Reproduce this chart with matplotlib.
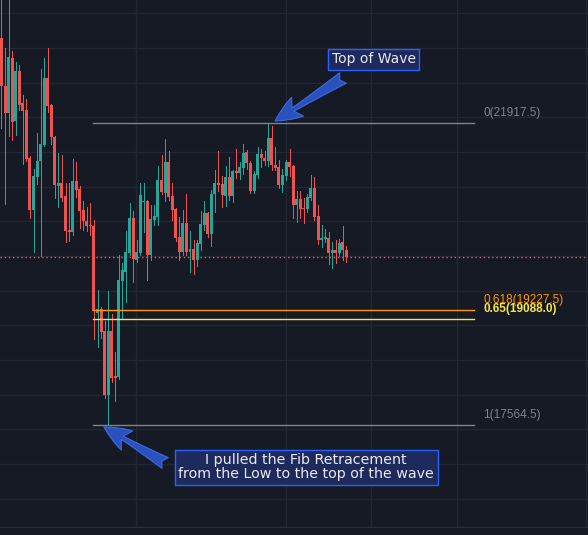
import matplotlib.pyplot as plt
import matplotlib.transforms as mtransforms

# candles (oldest first)
opens = [23142, 22450, 22061, 22854, 21946, 22667, 22205, 22104, 21413, 20663,
         21139, 21369, 21600, 22566, 22176, 21715, 21009, 21052, 20865, 20375,
         20346, 21081, 20966, 20663, 20504, 20447, 20432, 19178, 19236, 18919,
         17996, 18919, 18270, 18256, 19640, 19769, 20043, 20548, 19942, 20043,
         20778, 20793, 20014, 20519, 20562, 21096, 20908, 21355, 20865, 20677,
         20274, 20058, 20476, 20058, 20101, 19943, 20173, 20447, 20620, 20317,
         20894, 21052, 21038, 20865, 21139, 20865, 21225, 21196, 21268, 21499,
         21340, 20937, 21168, 21470, 21413, 21369, 21701, 21312, 21283, 21023,
         21153, 21355, 21297, 20735, 20822, 20692, 20677, 20836, 20980, 20577,
         20231, 20245, 20259, 20043, 20087, 20043, 20202, 20087]
highs = [23733, 22998, 23760, 22955, 22796, 22753, 22321, 22263, 21441, 21254,
         21773, 22695, 22854, 22998, 22190, 21730, 21485, 21456, 21052, 21052,
         21398, 21355, 21009, 20793, 20706, 20764, 20519, 19510, 19265, 19063,
         19496, 19164, 18616, 20014, 19899, 20360, 20764, 20649, 20231, 21052,
         21052, 20810, 20735, 20735, 21297, 21456, 21686, 21513, 21052, 20690,
         20562, 20663, 20894, 20360, 20231, 20231, 20649, 20793, 20635, 20952,
         21240, 21513, 21153, 21297, 21427, 21240, 21542, 21355, 21614, 21528,
         21369, 21225, 21571, 21542, 21513, 21917.5, 21874, 21571, 21384, 21254,
         21384, 21542, 21310, 20937, 20937, 20836, 20894, 21168, 21139, 20735,
         20447, 20389, 20346, 20202, 20231, 20245, 20432, 20144]
lows = [21845, 20750, 21730, 21672, 21744, 22104, 21326, 21369, 20548, 20058,
        21038, 20000, 21590, 22076, 21614, 20836, 20706, 20793, 20202, 20216,
        20303, 20850, 20404, 20375, 20360, 20303, 18804, 18688, 18818, 17953,
        17564.5, 18184, 17910, 18227, 19092, 19337, 20014, 19625, 19913, 20014,
        20346, 19654, 19943, 20447, 20447, 20894, 20793, 20807, 20519, 20216,
        19943, 20014, 20014, 19769, 19741, 19856, 20087, 20375, 20274, 20144,
        20634, 20937, 20706, 20721, 20807, 20778, 21124, 21110, 21182, 21254,
        20908, 20908, 21124, 21283, 21312, 21297, 21240, 21240, 20980, 20922,
        21096, 21153, 20548, 20490, 20548, 20476, 20634, 20807, 20519, 20173,
        20130, 20202, 19885, 19827, 19899, 20000, 19943, 19913]
closes = [22450, 22061, 22868, 21931, 22667, 22176, 22090, 21398, 20663, 21153,
          21369, 21614, 22566, 22162, 21715, 21023, 21052, 20836, 20360, 20346,
          21081, 20951, 20649, 20504, 20432, 20432, 19207, 19236, 18905, 17996,
          18919, 18241, 18241, 19654, 19798, 20058, 20548, 19957, 20058, 20879,
          20793, 20014, 20533, 20577, 21096, 20922, 21355, 20850, 20663, 20259,
          20058, 20476, 20058, 20101, 19943, 20187, 20461, 20620, 20317, 20894,
          21052, 21023, 20879, 21139, 20865, 21225, 21196, 21283, 21485, 21340,
          20937, 21182, 21470, 21413, 21369, 21701, 21312, 21268, 21023, 21168,
          21355, 21283, 20735, 20822, 20677, 20677, 20850, 20980, 20562, 20231,
          20259, 20274, 20043, 20087, 20043, 20187, 20087, 19985]

fib_levels = ['0', '0.618', '0.65', '1']
fib_prices = [21917.5, 19227.5, 19088.0, 17564.5]
fib_colors = ['#80838d', '#ff9800', '#f5e44a', '#80838d']

bg = '#161a25'
up_color = '#26a69a'
down_color = '#ef5350'

fig = plt.figure(figsize=(5.88, 5.35), dpi=100)
fig.patch.set_facecolor(bg)
ax = fig.add_axes([0, 8 / 535, 1, 527 / 535])
ax.set_facecolor(bg)

# candles (1 px wicks, 3 px bodies)
for i in range(len(opens)):
    o, h, l, c = opens[i], highs[i], lows[i], closes[i]
    col = up_color if c >= o else down_color
    ax.vlines(i, l, h, color=col, lw=0.72, zorder=2, antialiased=False)
    bottom = min(o, c)
    height = max(abs(c - o), 14)
    ax.bar(i, height, bottom=bottom, width=0.84, color=col, lw=0, zorder=2,
           antialiased=False)

# last price line
ax.axhline(closes[-1], color=down_color, lw=1, ls=(0, (1, 2)), zorder=1)

# fib retracement
x0, x1 = 25.7, 132.8
for lvl, price, col in zip(fib_levels, fib_prices, fib_colors):
    ax.plot([x0, x1], [price, price], color=col, lw=1, zorder=3)
    off = mtransforms.offset_copy(ax.transData, fig=fig, x=0, y=7.2, units='points')
    label = '%s(%.1f)' % (lvl, price)
    weight = 'bold' if lvl == '0.65' else 'normal'
    ax.text(135.4, price, label, transform=off, color=col, fontsize=8.5,
            family='Liberation Sans', weight=weight, va='center', ha='left', zorder=4)

# annotations
arrow = dict(arrowstyle='fancy,head_length=0.6,head_width=0.5,tail_width=0.28',
             fc='#2a52be', ec='#3d6ae0', lw=0.8, mutation_scale=32,
             shrinkA=0, shrinkB=0)
ax.annotate('', xy=(76.9, 21946), xytext=(96.0, 22566), arrowprops=arrow, zorder=5)
ax.annotate('', xy=(28.8, 17536), xytext=(46.0, 17017), arrowprops=arrow, zorder=5)

box = dict(boxstyle='square,pad=0.25', fc='#1d2a5b', ec='#2962ff', lw=1)
ax.text(104.7, 22833, 'Top of Wave', ha='center', va='center', fontsize=10,
        color='#e8eaf0', bbox=box, zorder=6)
ax.text(85.7, 16952, 'I pulled the Fib Retracement\nfrom the Low to the top of the wave',
        ha='center', va='center', fontsize=10.3, color='#e8eaf0', linespacing=1.0,
        multialignment='center', bbox=box, zorder=6)

# grid (ticks first, limits after so the ticks do not widen the view)
ax.set_yticks(range(16000, 24000, 500))
ax.set_xticks([37.95, 80.1, 104.0, 128.2, 164.2])
ax.set_xlim(-0.42, 164.9)
ax.set_ylim(16094.3, 23690.4)
ax.grid(True, color='#242733', lw=1, zorder=0)
ax.set_axisbelow(True)
ax.tick_params(left=False, bottom=False, labelleft=False, labelbottom=False)
for s in ['top', 'left', 'right']:
    ax.spines[s].set_visible(False)
ax.spines['bottom'].set_color('#2a2e39')

fig.savefig('out.png', dpi=100, facecolor=bg)
